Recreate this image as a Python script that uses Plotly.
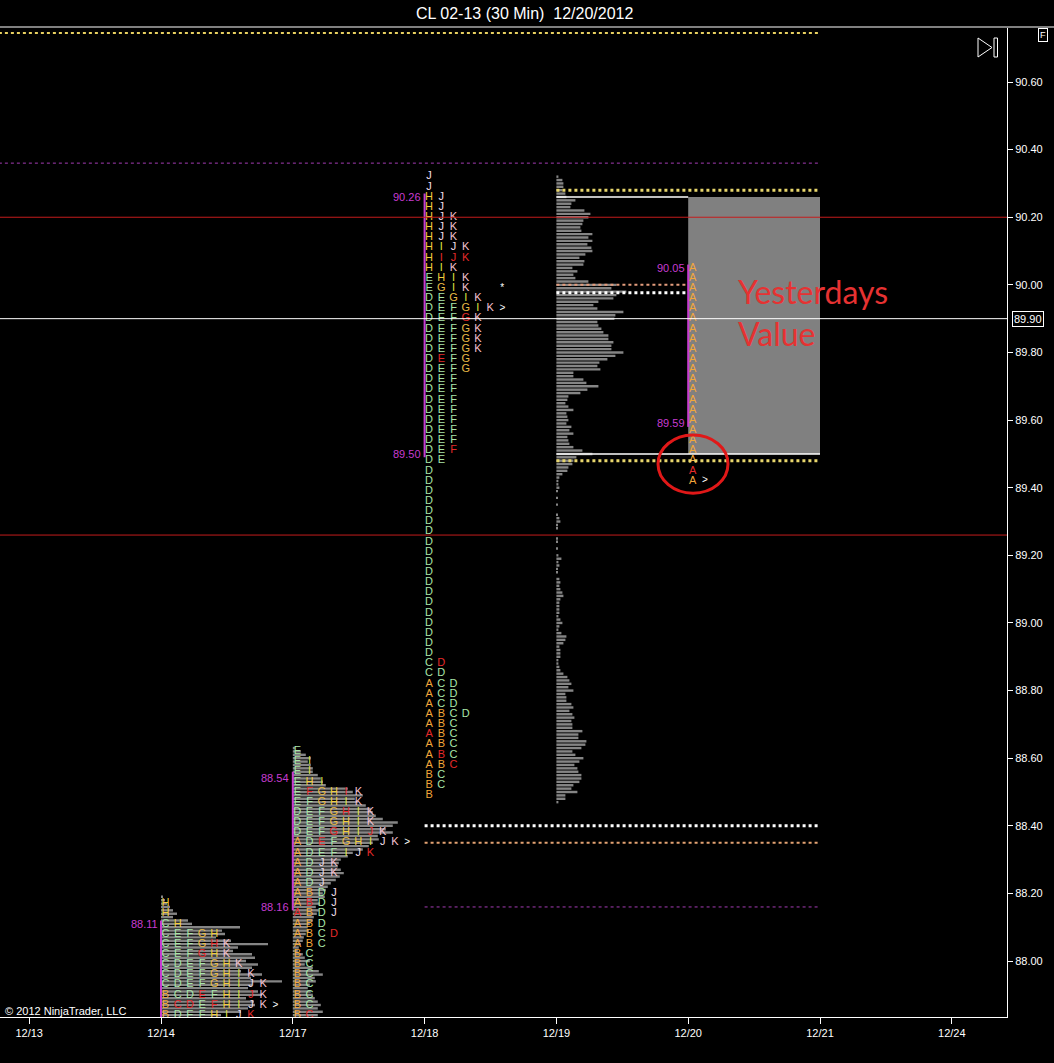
import plotly.graph_objects as go

# ---------------- data ----------------
DATE_LABELS = ["12/13", "12/14", "12/17", "12/18", "12/19", "12/20", "12/21", "12/24"]
DATE_POS = [0, 1, 2, 3, 4, 5, 6, 7]
Y_TICKS = [88.00, 88.20, 88.40, 88.60, 88.80, 89.00, 89.20, 89.40,
           89.60, 89.80, 90.00, 90.20, 90.40, 90.60]

TPO_STEP = 0.03   # price per TPO row
TICK = 0.01       # price per volume bar

# TPO letters, one string per row from the top; lower case = highlighted in red
TPO_1214_TOP = 88.17
TPO_1214_ROWS = ["H", "H", "CH", "CEFGH", "CEFGhK", "CEFgHK", "CDEFGHK", "CDEFGHIK",
                 "CDEFGHIJK", "BCDeFHIjK", "BcdEfHIJK", "BDEFHIJk"]

TPO_1217_TOP = 88.62
TPO_1217_ROWS = ["E", "EI", "EI", "EHI", "EfGHiK", "EFGHIK", "DEFGhIK", "DEFGHIK",
                 "DEFgHIjK", "ADeFGHIJK", "ADEFIJk", "ADJK", "ADJK", "ADJ", "ABDJ",
                 "AbDJ", "aBDJ", "ABD", "ABCd", "ABC", "BC", "BC", "BC", "BC", "BC",
                 "BC", "Bc"]

TPO_1218_TOP = 90.32
TPO_1218_ROWS = ["J", "J", "HJ", "HJ", "HJK", "HJK", "HJK", "HIJK", "Hijk", "HIK",
                 "EHIK", "EGIK", "DEGIK", "DEFGIK", "DEFgK", "DEFGK", "DEFGK", "DEFGK",
                 "DeFG", "DEFG", "DEF", "DEF", "DEF", "DEF", "DEF", "DEF", "DEF", "DEf",
                 "DE", "D", "D", "D", "D", "D", "D", "D", "D", "D", "D", "D", "D", "D",
                 "D", "D", "D", "D", "D", "D", "Cd", "CD", "ACD", "ACD", "ACD", "ABCD",
                 "ABC", "aBC", "ABC", "AbC", "ABc", "BC", "BC", "B"]

TPO_1220_TOP = 90.05
TPO_1220_ROWS = ["A", "A", "A", "A", "A", "A", "A", "A", "A", "A", "A", "A", "A", "A",
                 "A", "A", "A", "A", "A", "A", "a", "A"]

# volume histograms (one value per 0.01 tick, from the top price down)
VOL_1214_TOP = 88.19
VOL_1214 = [2, 4, 6, 9, 12, 16, 12, 27, 31, 79, 61, 64, 55, 70, 107, 77, 72, 91, 94,
            85, 97, 91, 80, 101, 90, 121, 91, 87, 97, 101, 85, 93, 94, 87, 80, 60, 75]

VOL_1217_TOP = 88.63
VOL_1217 = [2, 8, 13, 18, 15, 18, 20, 20, 25, 28, 30, 33, 55, 60, 70, 62, 65, 73,
            78, 80, 83, 90, 105, 100, 93, 100, 85, 86, 80, 76, 70, 60, 55, 48, 46, 45,
            48, 51, 47, 43, 38, 35, 33, 30, 32, 25, 27, 23, 26, 24, 21, 20, 17, 15,
            16, 13, 11, 10, 8, 6, 5, 10, 12, 17, 12, 20, 26, 30, 22, 23, 17, 15,
            18, 20, 22, 25, 28, 25, 30, 25, 20]

VOL_1219_TOP = 90.32
VOL_1219 = [2, 6, 7, 7, 6, 9, 10, 19, 15, 14,
            28, 34, 32, 27, 26, 24, 25, 36, 32, 36,
            31, 35, 36, 29, 23, 28, 27, 16, 21, 17,
            19, 32, 60, 55, 70, 60, 57, 42, 37, 41,
            67, 59, 58, 41, 42, 45, 47, 52, 52, 57,
            55, 55, 67, 59, 51, 43, 41, 44, 17, 17,
            27, 30, 42, 31, 24, 12, 11, 9, 12, 17,
            10, 11, 12, 10, 15, 13, 17, 11, 12, 13,
            17, 26, 36, 20, 17, 16, 12, 11, 6, 3,
            2, 2, 3, 1, 0, 1, 0, 1, 0, 0,
            1, 3, 4, 1, 1, 0, 0, 1, 1, 0,
            1, 0, 2, 5, 2, 3, 1, 1, 0, 3,
            4, 3, 4, 6, 7, 4, 3, 3, 3, 3,
            2, 4, 6, 3, 2, 5, 10, 9, 7, 3,
            4, 4, 4, 2, 2, 3, 4, 7, 11, 13,
            15, 12, 17, 9, 10, 10, 15, 17, 13, 16,
            18, 15, 16, 16, 26, 22, 22, 30, 29, 25,
            16, 19, 27, 23, 18, 21, 22, 25, 25, 23,
            17, 15, 21, 9, 9, 2]

# value areas: (day, high, low, high label, low label)
VALUE_AREAS = [(1, 88.12, 87.83, None, "88.11"),
               (2, 88.56, 88.15, "88.54", "88.16"),
               (3, 90.27, 89.49, "90.26", "89.50"),
               (5, 90.06, 89.58, "90.05", "89.59")]
VA_LABEL_PRICES = {"88.11": 88.11, "88.54": 88.54, "88.16": 88.16, "90.26": 90.26,
                   "89.50": 89.50, "90.05": 90.05, "89.59": 89.59}

# markers: (day, price, column, symbol)
MARKERS = [(3, 89.99, 6, "*"), (3, 89.93, 6, ">"), (2, 88.35, 9, ">"),
           (1, 87.87, 9, ">"), (5, 89.42, 1, ">")]

# horizontal levels: (price, from day, to day, colour, width, dash)
LEVELS = [(90.745, -0.23, 6.0, "#e8d060", 2, "dot"),
          (90.36, -0.23, 6.0, "#a53cb5", 1, "dot"),
          (90.28, 4.0, 6.0, "#e8d66c", 3, "dot"),
          (89.48, 4.0, 6.0, "#e8d66c", 3, "dot"),
          (90.00, 4.0, 5.0, "#e39c7c", 2, "dot"),
          (89.977, 4.0, 5.0, "#ffffff", 3, "dot"),
          (88.40, 3.0, 6.0, "#ffffff", 3, "dot"),
          (88.35, 3.0, 6.0, "#e3a272", 2, "dot"),
          (88.16, 3.0, 6.0, "#a53cb5", 1, "dot"),
          (90.26, 4.0, 5.0, "#ffffff", 1.5, "solid"),
          (89.50, 4.0, 6.0, "#ffffff", 1.5, "solid")]
FULL_LEVELS = [(90.20, "#c41c1c"), (89.26, "#c41c1c"), (89.90, "#ffffff")]
LAST_PRICE = 89.90

YESTERDAY_VA = (5, 6, 89.50, 90.26)

# ---------------- styling / geometry ----------------
W, H = 1054, 1063
ML, MR, MT, MB = 0, 47, 28, 46
PW, PH = W - ML - MR, H - MT - MB
PX_PER_DAY = 131.8
PX_PER_PRICE = 338.1
X_MIN = -29.2 / PX_PER_DAY
X_MAX = X_MIN + PW / PX_PER_DAY
Y_MAX = 90.60 + (82 - MT) / PX_PER_PRICE
Y_MIN = Y_MAX - PH / PX_PER_PRICE
XD = 1.0 / PX_PER_DAY
LETTER_OFF = 4.5
COL_STEP = 12.2
FONT = "Liberation Sans, Arial, sans-serif"

LETTER_COLORS = {"A": "#f2a73a", "B": "#f2a73a", "C": "#a9e6a9", "D": "#a9e6a9",
                 "E": "#a9e6a9", "F": "#a9e6a9", "G": "#e9bb45", "H": "#f2cd3c",
                 "I": "#dfe040", "J": "#f0dde8", "K": "#f5c2d2"}
RED = "#e52a2a"
BAR_GRAY = "#858585"
VA_COLOR = "#c83cd0"


def PX(px):
    return (px - ML) / PW


def PY(py):
    return (MT + PH - py) / PH


fig = go.Figure()

# yesterday's value box
fig.add_shape(type="rect", x0=YESTERDAY_VA[0], x1=YESTERDAY_VA[1],
              y0=YESTERDAY_VA[2], y1=YESTERDAY_VA[3],
              fillcolor="#808080", line_width=0, layer="below")


def add_volume(day, top, vols):
    ys = [round(top - TICK * i, 2) for i in range(len(vols))]
    xs = [v * XD for v in vols]
    fig.add_trace(go.Bar(x=xs, y=ys, base=day, orientation="h", width=0.0072,
                         marker=dict(color=BAR_GRAY, line_width=0),
                         hoverinfo="skip", showlegend=False))


def add_tpo(day, top, rows):
    xs, ys, txt, cols = [], [], [], []
    for i, row in enumerate(rows):
        p = round(top - TPO_STEP * i, 2)
        for c, ch in enumerate(row):
            xs.append(day + (LETTER_OFF + c * COL_STEP) * XD)
            ys.append(p)
            txt.append(ch.upper())
            cols.append(RED if ch.islower() else LETTER_COLORS[ch])
    fig.add_trace(go.Scatter(x=xs, y=ys, mode="text", text=txt,
                             textposition="middle center",
                             textfont=dict(color=cols, size=11, family=FONT),
                             hoverinfo="skip", showlegend=False))


add_volume(1, VOL_1214_TOP, VOL_1214)
add_volume(2, VOL_1217_TOP, VOL_1217)
add_volume(4, VOL_1219_TOP, VOL_1219)

add_tpo(1, TPO_1214_TOP, TPO_1214_ROWS)
add_tpo(2, TPO_1217_TOP, TPO_1217_ROWS)
add_tpo(3, TPO_1218_TOP, TPO_1218_ROWS)
add_tpo(5, TPO_1220_TOP, TPO_1220_ROWS)

# markers
fig.add_trace(go.Scatter(
    x=[d + (LETTER_OFF + c * COL_STEP) * XD for d, p, c, s in MARKERS],
    y=[p for d, p, c, s in MARKERS],
    text=[s for d, p, c, s in MARKERS], mode="text",
    textfont=dict(color="#ffffff", size=10, family=FONT),
    hoverinfo="skip", showlegend=False))

# value area lines and labels
for day, hi, lo, lab_hi, lab_lo in VALUE_AREAS:
    fig.add_shape(type="line", x0=day, x1=day, y0=lo, y1=hi,
                  line=dict(color=VA_COLOR, width=2))
    for lab in (lab_hi, lab_lo):
        if lab:
            fig.add_annotation(x=day - 1.5 * XD, y=VA_LABEL_PRICES[lab], text=lab,
                               xanchor="right", yanchor="middle", showarrow=False,
                               font=dict(color=VA_COLOR, size=11, family=FONT))

# levels
for p, x0, x1, col, w, dash in LEVELS:
    fig.add_shape(type="line", x0=x0, x1=x1, y0=p, y1=p,
                  line=dict(color=col, width=w, dash=dash))
for p, col in FULL_LEVELS:
    fig.add_shape(type="line", xref="paper", x0=0, x1=1, y0=p, y1=p,
                  line=dict(color=col, width=1))

# red circle
fig.add_shape(type="circle", x0=4.771, x1=5.302, y0=89.384, y1=89.556,
              line=dict(color="#e01818", width=3))

# "Yesterdays Value" note
fig.add_annotation(x=5.365, y=89.917, text="Yesterdays<br>Value", showarrow=False,
                   xanchor="left", yanchor="middle", align="left",
                   font=dict(color="#e63232", size=32, family="Lato, Carlito, sans-serif"))

# top border line
fig.add_shape(type="line", xref="paper", yref="paper", x0=0, x1=PX(W), y0=PY(27),
              y1=PY(27), line=dict(color="#ffffff", width=1))

# >| icon
fig.add_shape(type="path", xref="paper", yref="paper",
              path="M %f,%f L %f,%f L %f,%f Z" % (PX(978), PY(38), PX(992), PY(47.5),
                                                   PX(978), PY(57)),
              line=dict(color="#ffffff", width=1))
fig.add_shape(type="rect", xref="paper", yref="paper", x0=PX(994), x1=PX(997.5),
              y0=PY(57), y1=PY(38), line=dict(color="#ffffff", width=1))

# title
fig.add_annotation(xref="paper", yref="paper", x=PX(524), y=PY(13),
                   text="CL 02-13 (30 Min)\u00a0 12/20/2012", showarrow=False,
                   xanchor="center", yanchor="middle",
                   font=dict(color="#ffffff", size=16, family=FONT))
# copyright
fig.add_annotation(xref="paper", yref="paper", x=PX(3), y=PY(1011),
                   text="\u00a9 2012 NinjaTrader, LLC", showarrow=False,
                   xanchor="left", yanchor="middle",
                   font=dict(color="#ffffff", size=11, family=FONT))
# F box
fig.add_annotation(xref="paper", yref="paper", x=PX(1043), y=PY(35), text="F",
                   showarrow=False, xanchor="center", yanchor="middle",
                   bordercolor="#ffffff", borderwidth=1, borderpad=1,
                   font=dict(color="#ffffff", size=9, family=FONT))
# last price box
fig.add_annotation(xref="paper", yref="y", x=PX(1012), y=LAST_PRICE,
                   text="%.2f" % LAST_PRICE, showarrow=False, xanchor="left",
                   yanchor="middle", bgcolor="#000000", bordercolor="#ffffff",
                   borderwidth=1, borderpad=1,
                   font=dict(color="#ffffff", size=11, family=FONT))

fig.update_layout(
    width=W, height=H, margin=dict(l=ML, r=MR, t=MT, b=MB),
    paper_bgcolor="#000000", plot_bgcolor="#000000",
    barmode="overlay", showlegend=False,
    xaxis=dict(range=[X_MIN, X_MAX], tickvals=DATE_POS, ticktext=DATE_LABELS,
               ticks="outside", ticklen=6, tickcolor="#ffffff", showline=True,
               linecolor="#ffffff", linewidth=1, showgrid=False, zeroline=False,
               tickfont=dict(color="#ffffff", size=11, family=FONT), fixedrange=True),
    yaxis=dict(range=[Y_MIN, Y_MAX], side="right", tickvals=Y_TICKS,
               ticktext=["%.2f" % v for v in Y_TICKS], ticks="outside", ticklen=5,
               tickcolor="#ffffff", showline=True, linecolor="#ffffff", linewidth=1,
               showgrid=False, zeroline=False,
               tickfont=dict(color="#ffffff", size=11, family=FONT), fixedrange=True),
)

fig.write_html("out.html", config={"displayModeBar": False},
               post_script="document.body.style.margin='0';"
                           "document.body.style.background='#000';"
                           "document.documentElement.style.overflow='hidden';")
